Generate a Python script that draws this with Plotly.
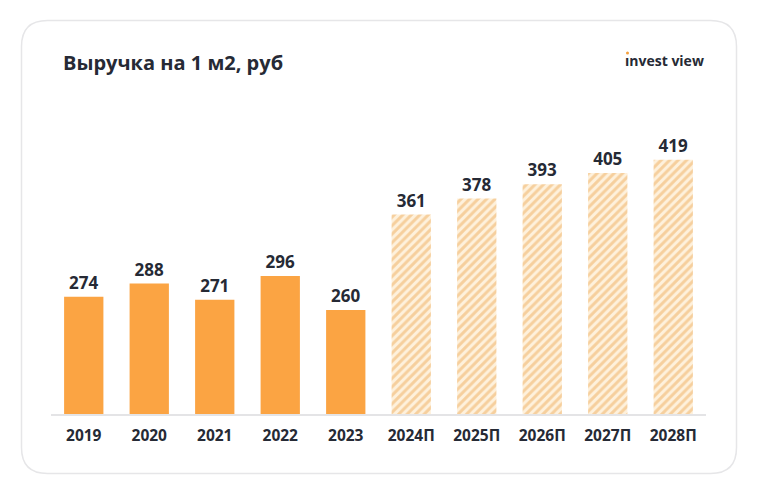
import plotly.graph_objects as go

categories = ["2019", "2020", "2021", "2022", "2023", "2024П", "2025П", "2026П", "2027П", "2028П"]
values = [274, 288, 271, 296, 260, 361, 378, 393, 405, 419]
is_forecast = [False] * 5 + [True] * 5

W, H = 758, 496
OFF = 8  # page body margin
# plot area in screen pixels
SX0, SX1, SY0, SY1 = 51, 706, 100, 414
L = SX0 - OFF
R = W - (SX1 - OFF)
T = SY0 - OFF
B = H - (SY1 - OFF)
PW, PH = W - L - R, H - T - B
Y0 = 150
YMAX = Y0 + PH / 0.945

def px(x):
    return (x - SX0) / PW

def py(y):
    return (SY1 - y) / PH

fig = go.Figure()

fact_x = [c for c, f in zip(categories, is_forecast) if not f]
fact_y = [v for v, f in zip(values, is_forecast) if not f]
fc_x = [c for c, f in zip(categories, is_forecast) if f]
fc_y = [v for v, f in zip(values, is_forecast) if f]

common_text = dict(textposition="outside", texttemplate="%{y}", cliponaxis=False,
                   constraintext="none",
                   textfont=dict(family="Open Sans", size=17, color="#262a35", weight="bold"))

fig.add_trace(go.Bar(x=fact_x, y=fact_y, marker=dict(color="#FBA443", line=dict(width=0)),
                     width=0.6, **common_text))
fig.add_trace(go.Bar(x=fc_x, y=fc_y, marker=dict(color="#FEF1DC", line=dict(width=0),
                     pattern=dict(shape="/", fgcolor="#EEAE5E", bgcolor="#FEF1DC", size=6, solidity=0.5)),
                     width=0.6, **common_text))

# rounded card
x1, x2, y1, y2, r = 21.5, 736.5, 20.5, 473.5, 26
path = (f"M {px(x1 + r)},{py(y1)} L {px(x2 - r)},{py(y1)} Q {px(x2)},{py(y1)} {px(x2)},{py(y1 + r)} "
        f"L {px(x2)},{py(y2 - r)} Q {px(x2)},{py(y2)} {px(x2 - r)},{py(y2)} "
        f"L {px(x1 + r)},{py(y2)} Q {px(x1)},{py(y2)} {px(x1)},{py(y2 - r)} "
        f"L {px(x1)},{py(y1 + r)} Q {px(x1)},{py(y1)} {px(x1 + r)},{py(y1)} Z")
shapes = [dict(type="path", xref="paper", yref="paper", path=path,
               line=dict(color="#E6E6E8", width=1.5), fillcolor="rgba(0,0,0,0)", layer="below")]
# orange dot on logo "i"
shapes.append(dict(type="circle", xref="paper", yref="paper",
                   x0=px(626.0), x1=px(629.0), y0=py(54.5), y1=py(51.5),
                   fillcolor="#F5A03C", line=dict(width=0)))

annotations = [
    dict(text="Выручка на 1 м2, руб", xref="paper", yref="paper", x=px(61), y=py(62),
         xanchor="left", yanchor="middle", showarrow=False,
         font=dict(family="Open Sans", size=20, color="#262a35", weight="bold")),
    dict(text="ınvest view", xref="paper", yref="paper", x=px(706), y=py(60),
         xanchor="right", yanchor="middle", showarrow=False,
         font=dict(family="Open Sans", size=14, color="#262a35", weight="bold")),
]

fig.update_layout(
    width=W, height=H,
    margin=dict(l=L, r=R, t=T, b=B),
    paper_bgcolor="white", plot_bgcolor="white",
    showlegend=False, barmode="overlay",
    shapes=shapes, annotations=annotations,
    xaxis=dict(categoryorder="array", categoryarray=categories, showgrid=False,
               showline=True, linecolor="#E4E4E6", linewidth=1.5, ticks="",
               tickfont=dict(family="Open Sans", size=15.5, color="#262a35", weight="bold"),
               ticklabelstandoff=7),
    yaxis=dict(range=[Y0, YMAX], visible=False, showgrid=False, zeroline=False),
)

fig.write_html("out.html")
